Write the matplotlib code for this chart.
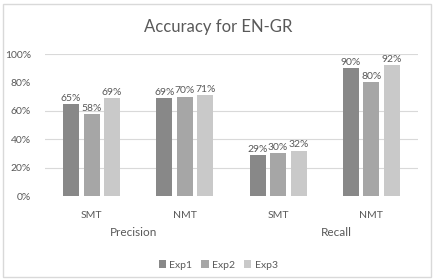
import matplotlib
matplotlib.use("Agg")
import matplotlib.pyplot as plt
from matplotlib.patches import Rectangle, Patch
import numpy as np

categories = ["SMT", "NMT", "SMT", "NMT"]
groups = ["Precision", "Recall"]
series = ["Exp1", "Exp2", "Exp3"]
exp1 = [65, 69, 29, 90]
exp2 = [58, 70, 30, 80]
exp3 = [69, 71, 32, 92]
yticks = [0, 20, 40, 60, 80, 100]
colors = ["#888888", "#a6a6a6", "#c9c9c9"]
text_color = "#595959"

plt.rcParams['font.family'] = ['Lato', 'DejaVu Sans']

fig = plt.figure(figsize=(4.36, 2.80), dpi=100)
fig.patches.append(Rectangle((3/436, 3/280), 428/436, 273/280, transform=fig.transFigure,
                             fill=False, edgecolor="#d9d9d9", linewidth=1.0))

ax = fig.add_axes([45/436, 1-196/280, 373/436, 142/280])
x = np.arange(len(categories))
width = 0.172
step = 0.22
for i, (vals, name) in enumerate(zip([exp1, exp2, exp3], series)):
    pos = x + (i - 1) * step
    bars = ax.bar(pos, np.array(vals) / 100, width, color=colors[i], label=name, zorder=2)
    for p, v in zip(pos, vals):
        ax.text(p, v / 100 + 0.008, f"{v}%", ha="center", va="bottom",
                fontsize=7.5, color=text_color)

ax.set_xlim(-0.5, len(categories) - 0.5)
ax.set_ylim(0, 1)
ax.set_yticks([t / 100 for t in yticks])
ax.set_yticklabels([f"{t}%" for t in yticks], fontsize=7.5, color=text_color)
for t in [20, 40, 60, 100]:
    ax.axhline(t / 100, color="#d9d9d9", linewidth=0.8, zorder=1)
ax.tick_params(axis="y", length=0, pad=10)
ax.set_xticks(x)
ax.set_xticklabels(categories, fontsize=7.5, color=text_color)
ax.tick_params(axis="x", length=0, pad=11)
for s in ax.spines.values():
    s.set_visible(False)

group_pos = [0.45, 2.62]
for gp, g in zip(group_pos, groups):
    ax.text(gp, -0.255, g, transform=ax.get_xaxis_transform(), ha="center", va="center",
            fontsize=8.5, color=text_color)

fig.text(0.5, 1 - 27/280, "Accuracy for EN-GR", ha="center", va="center",
         fontsize=12, color=text_color)

handles = [Patch(facecolor=c, edgecolor="none") for c in colors]
fig.legend(handles, series, loc="center", bbox_to_anchor=(218/436, 1 - 265/280), ncol=3,
           frameon=False, fontsize=7.5, labelcolor=text_color, handlelength=0.7,
           handleheight=0.7, handletextpad=0.3, columnspacing=0.9)

fig.savefig("out.png", dpi=100)
